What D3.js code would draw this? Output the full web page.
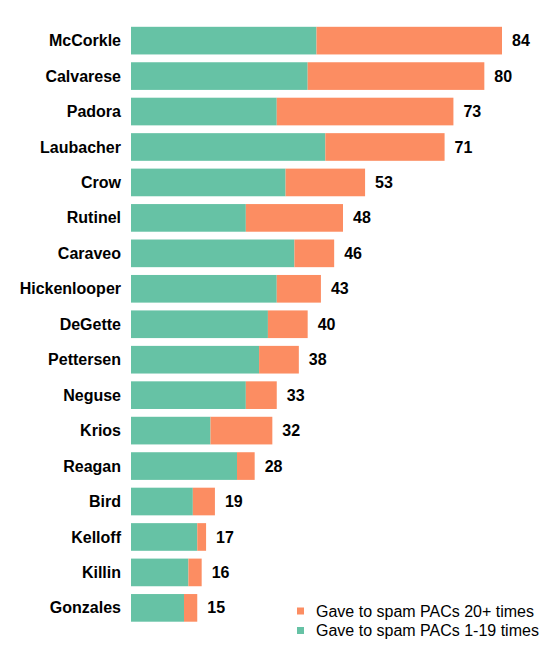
<!DOCTYPE html>
<html>
<head>
<meta charset="utf-8">
<script src="https://cdn.jsdelivr.net/npm/d3@7"></script>
<style>
  body { margin: 0; background: #fff; }
  text { font-family: "Liberation Sans", Arial, sans-serif; }
</style>
</head>
<body>
<div id="chart"></div>
<script>
const names = ['McCorkle', 'Calvarese', 'Padora', 'Laubacher', 'Crow', 'Rutinel', 'Caraveo',
  'Hickenlooper', 'DeGette', 'Pettersen', 'Neguse', 'Krios', 'Reagan', 'Bird', 'Kelloff', 'Killin', 'Gonzales']
const totals = [84, 80, 73, 71, 53, 48, 46, 43, 40, 38, 33, 32, 28, 19, 17, 16, 15]
// donors who gave 1-19 times (green part)
const lowCounts = [42, 40, 33, 44, 35, 26, 37, 33, 31, 29, 26, 18, 24, 14, 15, 13, 12]
const seriesLabels = ['Gave to spam PACs 1-19 times', 'Gave to spam PACs 20+ times']
const seriesColors = ['#66c2a5', '#fc8d62']

const WIDTH = 550, HEIGHT = 650
const MARGIN = { LEFT: 131, TOP: 19 }

const rows = names.map((n, i) => ({ name: n, low: lowCounts[i], high: totals[i] - lowCounts[i], total: totals[i] }))

const svg = d3.select('#chart').append('svg')
  .attr('width', WIDTH)
  .attr('height', HEIGHT)

const x = d3.scaleLinear().domain([0, 84]).range([MARGIN.LEFT, 502])
const y = d3.scaleBand().domain(names).range([MARGIN.TOP, 629.5]).padding(0.22)

const stack = d3.stack().keys(['low', 'high'])(rows)

svg.append('g').selectAll('g')
  .data(stack)
  .join('g')
  .attr('fill', (d, i) => seriesColors[i])
  .selectAll('rect')
  .data(d => d)
  .join('rect')
  .attr('x', d => x(d[0]))
  .attr('width', d => x(d[1]) - x(d[0]))
  .attr('y', d => y(d.data.name))
  .attr('height', y.bandwidth())

// category labels
svg.append('g').selectAll('text')
  .data(rows)
  .join('text')
  .attr('x', 121)
  .attr('y', d => y(d.name) + y.bandwidth() / 2)
  .attr('dy', '0.35em')
  .attr('text-anchor', 'end')
  .attr('font-size', 16)
  .attr('font-weight', 'bold')
  .text(d => d.name)

// totals
svg.append('g').selectAll('text')
  .data(rows)
  .join('text')
  .attr('x', d => x(d.total) + 10)
  .attr('y', d => y(d.name) + y.bandwidth() / 2)
  .attr('dy', '0.35em')
  .attr('font-size', 16)
  .attr('font-weight', 'bold')
  .text(d => d.total)

// legend, 20+ first
const legend = svg.append('g').attr('transform', 'translate(297, 611)')
const legendOrder = [1, 0]
legendOrder.forEach((k, i) => {
  const g = legend.append('g').attr('transform', `translate(0, ${i * 19.5})`)
  g.append('rect').attr('x', 0).attr('y', -3.5).attr('width', 7).attr('height', 7).attr('fill', seriesColors[k])
  g.append('text').attr('x', 19).attr('y', 0).attr('dy', '0.35em')
    .attr('font-size', 16).text(seriesLabels[k])
})
</script>
</body>
</html>
